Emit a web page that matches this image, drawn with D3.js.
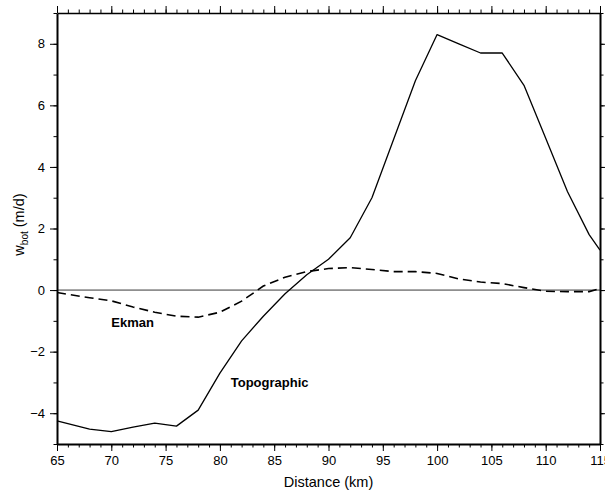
<!DOCTYPE html>
<html><head><meta charset="utf-8">
<script src="https://cdn.jsdelivr.net/npm/d3@7"></script>
<style>
html,body{margin:0;padding:0;background:#fff;}
svg{display:block;font-family:"Liberation Sans",Arial,Helvetica,sans-serif;}
</style></head>
<body><svg id="chart" width="605" height="490"></svg>
<script>
// Data (distance km, w_bot m/d)
const topoDist = [65,68,70,72,74,76,78,80,82,84,86,88,90,92,94,96,98,100,102,104,106,108,110,112,114,115];
const topoVals = [-4.25,-4.52,-4.6,-4.45,-4.32,-4.42,-3.9,-2.7,-1.65,-0.85,-0.12,0.5,1.0,1.7,3.0,4.9,6.8,8.3,8.0,7.7,7.7,6.65,4.93,3.2,1.8,1.3];
const ekmanDist = [65,68,70,72,74,76,78,80,82,84,86,88,90,92,94,96,98,100,102,104,106,108,110,112,114,115];
const ekmanVals = [-0.08,-0.25,-0.35,-0.55,-0.72,-0.85,-0.88,-0.72,-0.36,0.13,0.42,0.6,0.7,0.73,0.67,0.6,0.6,0.54,0.36,0.26,0.21,0.08,-0.04,-0.05,-0.05,0.05];
const xMajorTicks = [65,70,75,80,85,90,95,100,105,110,115];
const yMajorTicks = [-4,-2,0,2,4,6,8];
const xLabel = "Distance (km)";
const yLabelMain = "w";
const yLabelSub = "bot";
const yLabelUnit = " (m/d)";
const curveLabels = [{text:"Ekman", x:70.0, y:-1.2}, {text:"Topographic", x:81.0, y:-3.15}];

const svg = d3.select("#chart");
const L=57, R=600, T=13, B=444;
const x = d3.scaleLinear().domain([65,115]).range([L,R]);
const y = d3.scaleLinear().domain([-5,9]).range([B,T]);

// zero line
svg.append("line").attr("x1",L).attr("x2",R).attr("y1",y(0)).attr("y2",y(0))
  .attr("stroke","#222").attr("stroke-width",0.9);

const line = d3.line().x(d=>x(d[0])).y(d=>y(d[1]));
svg.append("path").datum(topoDist.map((d,i)=>[d,topoVals[i]]))
  .attr("d",line).attr("fill","none").attr("stroke","#000").attr("stroke-width",1.3).attr("stroke-linejoin","round");
svg.append("path").datum(ekmanDist.map((d,i)=>[d,ekmanVals[i]]))
  .attr("d",line).attr("fill","none").attr("stroke","#000").attr("stroke-width",1.6).attr("stroke-dasharray","9,5");

// axes
const minorX = d3.range(65,116,1), minorY = d3.range(-5,10,1);
function styleAxis(g,w){ g.select(".domain").attr("stroke-width",w).attr("stroke","#000");
  g.selectAll(".tick line").attr("stroke","#000").attr("stroke-width",1);
  g.selectAll("text").attr("font-size",13).attr("fill","#000"); }

// minor ticks
svg.append("g").attr("transform",`translate(0,${B})`).call(d3.axisBottom(x).tickValues(minorX).tickSize(3.5).tickFormat("").tickSizeOuter(0)).call(g=>styleAxis(g,2));
svg.append("g").attr("transform",`translate(0,${T})`).call(d3.axisTop(x).tickValues(minorX).tickSize(3.5).tickFormat("").tickSizeOuter(0)).call(g=>styleAxis(g,1.5));
svg.append("g").attr("transform",`translate(${L},0)`).call(d3.axisLeft(y).tickValues(minorY).tickSize(3.5).tickFormat("").tickSizeOuter(0)).call(g=>styleAxis(g,2));
svg.append("g").attr("transform",`translate(${R},0)`).call(d3.axisRight(y).tickValues(minorY).tickSize(3.5).tickFormat("").tickSizeOuter(0)).call(g=>styleAxis(g,2));
// major ticks
const gxb = svg.append("g").attr("transform",`translate(0,${B})`).call(d3.axisBottom(x).tickValues(xMajorTicks).tickSize(7).tickPadding(5).tickSizeOuter(0)).call(g=>styleAxis(g,2));
gxb.select(".domain").remove();
svg.append("g").attr("transform",`translate(0,${T})`).call(d3.axisTop(x).tickValues(xMajorTicks).tickSize(7).tickFormat("").tickSizeOuter(0)).call(g=>g.select(".domain").remove()).selectAll("line").attr("stroke","#000");
const gyl = svg.append("g").attr("transform",`translate(${L},0)`).call(d3.axisLeft(y).tickValues(yMajorTicks).tickSize(7).tickPadding(5).tickSizeOuter(0).tickFormat(d3.format("d"))).call(g=>styleAxis(g,2));
gyl.select(".domain").remove();
svg.append("g").attr("transform",`translate(${R},0)`).call(d3.axisRight(y).tickValues(yMajorTicks).tickSize(7).tickFormat("").tickSizeOuter(0)).call(g=>g.select(".domain").remove()).selectAll("line").attr("stroke","#000");

// axis labels
svg.append("text").attr("x",(L+R)/2).attr("y",487).attr("text-anchor","middle").attr("font-size",14.5).text(xLabel);
const yl = svg.append("text").attr("transform",`translate(24,${(T+B)/2 - 4}) rotate(-90)`).attr("text-anchor","middle").attr("font-size",14.5);
yl.append("tspan").text(yLabelMain);
yl.append("tspan").attr("font-size",10).attr("dy",4).text(yLabelSub);
yl.append("tspan").attr("dy",-4).text(yLabelUnit);

// curve labels
svg.selectAll(".cl").data(curveLabels).enter().append("text")
  .attr("x",d=>x(d.x)).attr("y",d=>y(d.y)).attr("font-size",13).attr("font-weight","bold").text(d=>d.text);
</script></body></html>
